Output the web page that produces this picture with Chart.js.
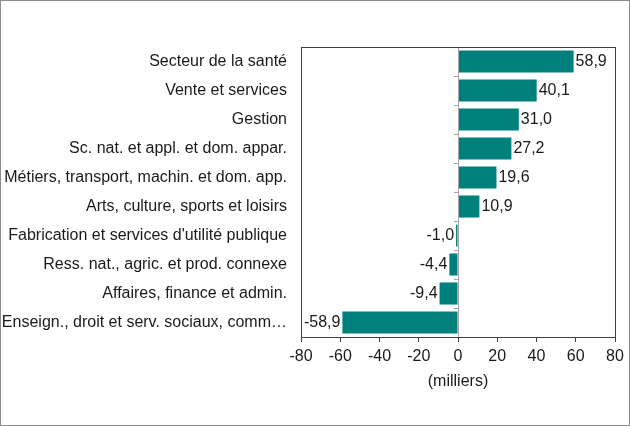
<!DOCTYPE html>
<html>
<head>
<meta charset="utf-8">
<script src="https://cdn.jsdelivr.net/npm/chart.js@4"></script>
<style>
  body { margin: 0; background: #fff; }
  #wrap { width: 628px; height: 424px; border: 1px solid #8c8c8c; }
</style>
</head>
<body>
<div id="wrap"><canvas id="emploiChart" width="628" height="424"></canvas></div>
<script>
const categories = [
  'Secteur de la santé',
  'Vente et services',
  'Gestion',
  'Sc. nat. et appl. et dom. appar.',
  'Métiers, transport, machin. et dom. app.',
  'Arts, culture, sports et loisirs',
  "Fabrication et services d'utilité publique",
  'Ress. nat., agric. et prod. connexe',
  'Affaires, finance et admin.',
  'Enseign., droit et serv. sociaux, comm…'
];
const variation = [58.9, 40.1, 31.0, 27.2, 19.6, 10.9, -1.0, -4.4, -9.4, -58.9];
const xTicks = [-80, -60, -40, -20, 0, 20, 40, 60, 80];

const ctx = document.getElementById('emploiChart');
const fontFam = '"Liberation Sans", Arial, sans-serif';
const fontSize = 16;

// box around the plot, zero line with its little ticks, value labels
const extras = {
  id: 'extras',
  afterDatasetsDraw(chart) {
    const { ctx, chartArea: a, scales } = chart;
    const x0 = scales.x.getPixelForValue(0);
    ctx.save();
    ctx.strokeStyle = '#a6a6a6';
    ctx.lineWidth = 1;
    ctx.beginPath();
    ctx.moveTo(Math.round(x0) + 0.5, a.top);
    ctx.lineTo(Math.round(x0) + 0.5, a.bottom);
    const step = (a.bottom - a.top) / categories.length;
    for (let i = 1; i < categories.length; i++) {
      const y = Math.round(a.top + step * i) + 0.5;
      ctx.moveTo(Math.round(x0) - 4, y);
      ctx.lineTo(Math.round(x0) + 0.5, y);
    }
    ctx.stroke();

    ctx.strokeStyle = '#404040';
    ctx.strokeRect(Math.round(a.left) + 0.5, Math.round(a.top) + 0.5,
      Math.round(a.right - a.left), Math.round(a.bottom - a.top));

    ctx.fillStyle = '#1a1a1a';
    ctx.font = fontSize + 'px ' + fontFam;
    ctx.textBaseline = 'middle';
    const meta = chart.getDatasetMeta(0);
    meta.data.forEach((bar, i) => {
      const v = variation[i];
      const txt = v.toFixed(1).replace('.', ',');
      if (v >= 0) {
        ctx.textAlign = 'left';
        ctx.fillText(txt, bar.x + 2, bar.y);
      } else {
        ctx.textAlign = 'right';
        ctx.fillText(txt, bar.x - 2, bar.y);
      }
    });
    ctx.restore();
  }
};

new Chart(ctx, {
  type: 'bar',
  data: {
    labels: categories,
    datasets: [{
      data: variation,
      backgroundColor: '#00807c',
      borderWidth: 0,
      barPercentage: 0.76,
      categoryPercentage: 1
    }]
  },
  options: {
    indexAxis: 'y',
    responsive: false,
    animation: false,
    layout: { padding: { top: 46, right: 14, left: 0, bottom: 0 } },
    plugins: {
      legend: { display: false },
      tooltip: { enabled: false }
    },
    scales: {
      x: {
        min: -80,
        max: 80,
        afterBuildTicks: s => { s.ticks = xTicks.map(v => ({ value: v })); },
        afterFit: s => { s.height = 88; },
        grid: { drawOnChartArea: false, drawTicks: true, tickLength: 5, color: '#404040' },
        border: { display: false },
        ticks: {
          color: '#1a1a1a',
          padding: 5,
          maxRotation: 0,
          font: { family: fontFam, size: fontSize }
        },
        title: {
          display: true,
          text: '(milliers)',
          color: '#1a1a1a',
          font: { family: fontFam, size: fontSize },
          padding: { top: 0, bottom: 34 }
        }
      },
      y: {
        afterFit: s => { s.width = 300; },
        grid: { display: false },
        border: { display: false },
        ticks: {
          color: '#1a1a1a',
          padding: 6,
          autoSkip: false,
          font: { family: fontFam, size: fontSize }
        }
      }
    }
  },
  plugins: [extras]
});
</script>
</body>
</html>
